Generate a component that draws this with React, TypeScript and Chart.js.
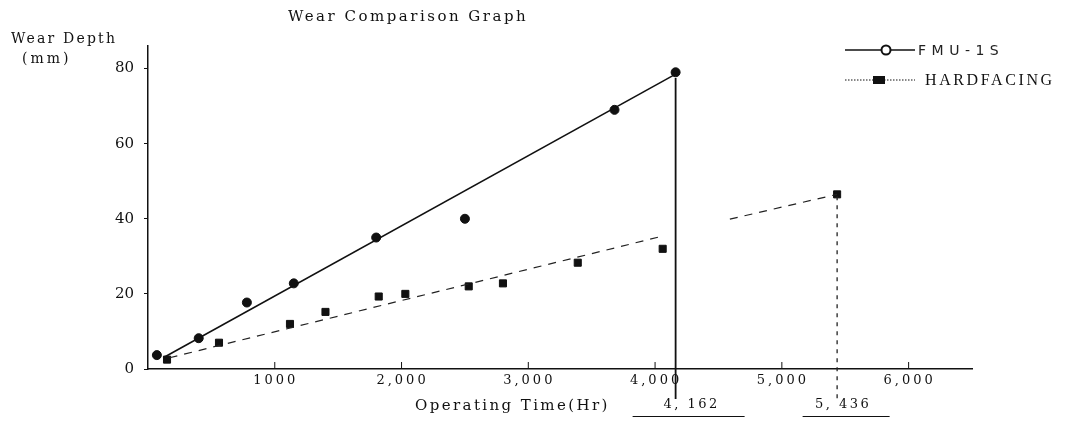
import React, { useEffect, useRef } from "react";
import { Chart, registerables } from "chart.js";

Chart.register(...registerables);

// ---- data ----
const fmuHours = [70, 400, 780, 1150, 1800, 2500, 3680, 4162];
const fmuWear = [3.7, 8.2, 17.7, 22.8, 35, 40, 69, 79];

const hfHours = [150, 560, 1120, 1400, 1820, 2030, 2530, 2800, 3390, 4060, 5436];
const hfWear = [2.5, 7, 12, 15.2, 19.3, 20, 22, 22.8, 28.3, 32, 46.5];

// fitted trend lines (solid for FMU-1S, dashed for HARDFACING, with a gap)
const fmuTrendHours = [120, 4162];
const fmuTrendWear = [3, 78.5];
const hfTrendHours = [170, 4050, 4300, 4590, 5436];
const hfTrendWear: (number | null)[] = [3, 35.3, null, 39.9, 46.5];

// end-of-life drop lines
const fmuLifeHours = [4162, 4162];
const fmuLifeWear = [77.5, -8];
const hfLifeHours = [5436, 5436];
const hfLifeWear = [46, -8];

const xTickValues = [1000, 2000, 3000, 4000, 5000, 6000];
const xTickLabels = ["1000", "2,000", "3,000", "4,000", "5,000", "6,000"];
const yTickValues = [0, 20, 40, 60, 80];

const lifeLabels = ["4, 162", "5, 436"];
const lifeLabelHours = [4162, 5436];

const seriesNames = ["FMU-1S", "HARDFACING"];

const pts = (xs: number[], ys: (number | null)[]) => xs.map((x, i) => ({ x, y: ys[i] }));

const overlay = {
  id: "overlay",
  beforeDraw(chart: any) {
    const ctx = chart.ctx;
    ctx.save();
    ctx.fillStyle = "#fff";
    ctx.fillRect(0, 0, chart.width, chart.height);
    ctx.restore();
  },
  afterDraw(chart: any) {
    const ctx = chart.ctx;
    const xs = chart.scales.x;
    const ys = chart.scales.y;
    ctx.save();
    ctx.fillStyle = "#111";
    ctx.strokeStyle = "#111";
    ctx.textBaseline = "middle";

    // title
    ctx.letterSpacing = "2.5px";
    ctx.font = "15px 'DejaVu Serif'";
    ctx.textAlign = "left";
    ctx.fillText("Wear Comparison Graph", 288, 17);

    // y axis title
    ctx.letterSpacing = "2.2px";
    ctx.font = "14px 'DejaVu Serif'";
    ctx.fillText("Wear Depth", 11, 39);
    ctx.letterSpacing = "3px";
    ctx.fillText("(mm)", 22, 59);

    // x tick labels (values from the x scale)
    ctx.font = "13px 'DejaVu Serif'";
    ctx.letterSpacing = "3px";
    ctx.textAlign = "center";
    xTickValues.forEach((v, i) => {
      const px = xs.getPixelForValue(v);
      ctx.fillText(xTickLabels[i], px + 1, ys.bottom + 12);
    });

    // x axis title
    ctx.textAlign = "left";
    ctx.font = "15px 'DejaVu Serif'";
    ctx.letterSpacing = "2.4px";
    ctx.fillText("Operating Time(Hr)", 415, 406);

    // life annotations
    ctx.font = "13px 'DejaVu Serif'";
    ctx.letterSpacing = "2.5px";
    ctx.textAlign = "center";
    const offs = [16, 6];
    const lineOffs = [13, 9];
    const widths = [112, 87];
    lifeLabelHours.forEach((h, i) => {
      const px = xs.getPixelForValue(h);
      const cx = px + offs[i];
      ctx.fillText(lifeLabels[i], cx, 405);
      const lx = px + lineOffs[i];
      ctx.lineWidth = 1;
      ctx.beginPath();
      ctx.moveTo(lx - widths[i] / 2, 416.5);
      ctx.lineTo(lx + widths[i] / 2, 416.5);
      ctx.stroke();
    });

    // upward x ticks
    ctx.lineWidth = 1;
    xTickValues.forEach((v) => {
      const px = xs.getPixelForValue(v);
      ctx.beginPath();
      ctx.moveTo(px, ys.bottom);
      ctx.lineTo(px, ys.bottom - 7);
      ctx.stroke();
    });

    // legend
    ctx.textAlign = "left";
    ctx.lineWidth = 1.5;
    ctx.setLineDash([]);
    ctx.beginPath();
    ctx.moveTo(845, 50);
    ctx.lineTo(915, 50);
    ctx.stroke();
    ctx.beginPath();
    ctx.arc(886, 50, 4.5, 0, Math.PI * 2);
    ctx.fillStyle = "#fff";
    ctx.fill();
    ctx.lineWidth = 2;
    ctx.stroke();
    ctx.fillStyle = "#222";
    ctx.font = "14px 'DejaVu Sans'";
    ctx.letterSpacing = "5.5px";
    ctx.fillText(seriesNames[0], 918, 51);

    const ly = 80;
    ctx.lineWidth = 1;
    ctx.setLineDash([1.5, 1.5]);
    ctx.beginPath();
    ctx.moveTo(845, ly);
    ctx.lineTo(915, ly);
    ctx.stroke();
    ctx.setLineDash([]);
    ctx.fillStyle = "#111";
    ctx.fillRect(873, ly - 4, 12, 8);
    ctx.font = "16px 'Liberation Serif'";
    ctx.letterSpacing = "2.6px";
    ctx.fillText(seriesNames[1], 925, ly + 1);

    ctx.restore();
  },
};

export default function App() {
  const ref = useRef<HTMLCanvasElement | null>(null);
  useEffect(() => {
    document.body.style.margin = "0";
    const canvas = ref.current!;
    const chart = new Chart(canvas, {
      type: "scatter",
      data: {
        datasets: [
          {
            label: "FMU-1S trend",
            type: "line",
            data: pts(fmuTrendHours, fmuTrendWear),
            borderColor: "#111",
            borderWidth: 1.6,
            pointRadius: 0,
            showLine: true,
            fill: false,
          } as any,
          {
            label: "FMU-1S life",
            type: "line",
            data: pts(fmuLifeHours, fmuLifeWear),
            borderColor: "#111",
            borderWidth: 1.8,
            pointRadius: 0,
            showLine: true,
            clip: false,
          } as any,
          {
            label: "HARDFACING trend",
            type: "line",
            data: pts(hfTrendHours, hfTrendWear),
            borderColor: "#222",
            borderWidth: 1.2,
            borderDash: [8, 7],
            pointRadius: 0,
            showLine: true,
            spanGaps: false,
          } as any,
          {
            label: "HARDFACING life",
            type: "line",
            data: pts(hfLifeHours, hfLifeWear),
            borderColor: "#222",
            borderWidth: 1.3,
            borderDash: [4, 5],
            pointRadius: 0,
            showLine: true,
            clip: false,
          } as any,
          {
            label: seriesNames[0],
            data: pts(fmuHours, fmuWear),
            pointStyle: "circle",
            pointRadius: 4.5,
            backgroundColor: "#111",
            borderColor: "#111",
            borderWidth: 1,
          },
          {
            label: seriesNames[1],
            data: pts(hfHours, hfWear),
            pointStyle: "rect",
            pointRadius: 5,
            backgroundColor: "#111",
            borderColor: "#111",
            borderWidth: 1,
          },
        ],
      },
      options: {
        responsive: false,
        animation: false,
        devicePixelRatio: 1,
        layout: { padding: { left: 0, top: 46, right: 94, bottom: 0 } },
        plugins: {
          legend: { display: false },
          title: { display: false },
          tooltip: { enabled: false },
        },
        scales: {
          x: {
            type: "linear",
            min: 0,
            max: 6500,
            afterFit: (s: any) => {
              s.height = 60;
            },
            border: { display: true, color: "#111", width: 1.5 },
            grid: { display: false },
            ticks: { display: false, stepSize: 1000 },
          },
          y: {
            type: "linear",
            min: 0,
            max: 86,
            afterFit: (s: any) => {
              s.width = 148;
            },
            afterBuildTicks: (s: any) => {
              s.ticks = yTickValues.map((v) => ({ value: v }));
            },
            border: { display: true, color: "#111", width: 1.5 },
            grid: { drawOnChartArea: false, drawTicks: true, tickLength: 4, color: "#111" },
            ticks: {
              stepSize: 20,
              includeBounds: false,
              padding: 10,
              color: "#111",
              font: { family: "'DejaVu Serif'", size: 15 },
            },
          },
        },
      },
      plugins: [overlay],
    } as any);
    return () => chart.destroy();
  }, []);
  return (
    <div style={{ position: "relative", width: 1066, height: 429, background: "#fff" }}>
      <canvas ref={ref} width={1066} height={429} style={{ display: "block" }} />
    </div>
  );
}
